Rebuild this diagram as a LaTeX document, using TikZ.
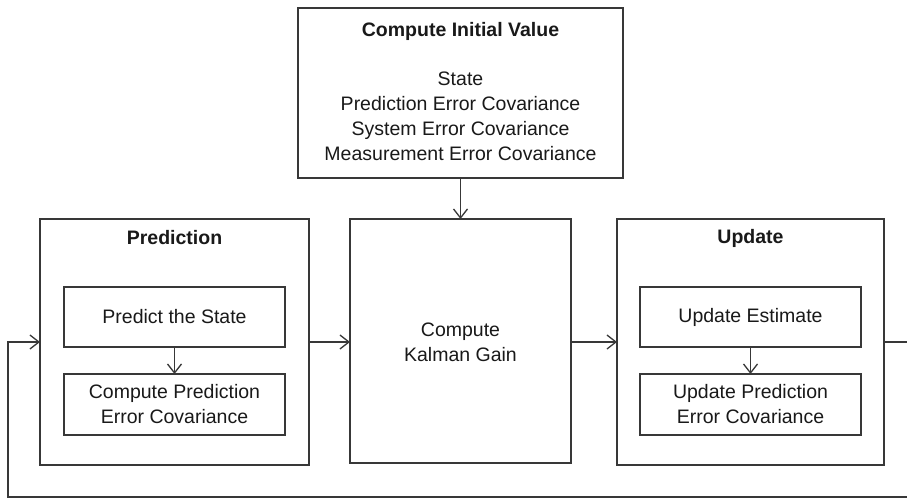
\documentclass[tikz,border=0pt]{standalone}
\usepackage{fontspec}
\setmainfont{Liberation Sans}
\usetikzlibrary{arrows.meta}
\begin{document}
\begin{tikzpicture}[x=1pt,y=-1pt,
  ln/.style={draw=black!78, line width=1.3pt},
  box/.style={ln, fill=white, inner sep=0pt, outer sep=0pt},
  txt/.style={font=\fontsize{19.5}{25}\selectfont, align=center, inner sep=0pt, text=black!90},
  ttl/.style={txt, font=\fontsize{19.5}{25}\selectfont\bfseries},
  arr/.style={ln, -{Straight Barb[length=9pt,width=14pt,line width=1.3pt]}}]
\useasboundingbox (0,0) rectangle (907,500);
\fill[white] (0,0) rectangle (907,500);
% boxes
\node[box, minimum width=325pt, minimum height=170pt] (init) at (460.5,93) {};
\node[box, minimum width=269pt, minimum height=246pt] (pred) at (174.5,342) {};
\node[box, minimum width=221pt, minimum height=244pt] (kal) at (460.5,341) {};
\node[box, minimum width=267pt, minimum height=246pt] (upd) at (750.5,342) {};
\node[box, minimum width=221pt, minimum height=60pt] (ps) at (174.5,317) {};
\node[box, minimum width=221pt, minimum height=61pt] (pc) at (174.5,404.5) {};
\node[box, minimum width=221pt, minimum height=60pt] (ue) at (750.5,317) {};
\node[box, minimum width=221pt, minimum height=61pt] (uc) at (750.5,404.5) {};
% texts
\node[ttl] (initt) at (460.5,31) {Compute Initial Value};
\node[txt] (initb) at (460.5,116) {State\\Prediction Error Covariance\\System Error Covariance\\Measurement Error Covariance};
\node[ttl] (predt) at (174.5,238) {Prediction};
\node[ttl] (updt) at (750.5,238) {Update};
\node[txt] (pst) at (174.5,317) {Predict the State};
\node[txt] (pct) at (174.5,404.5) {Compute Prediction\\Error Covariance};
\node[txt] (kalt) at (460.5,342) {Compute\\Kalman Gain};
\node[txt] (uet) at (750.5,317) {Update Estimate};
\node[txt] (uct) at (750.5,404.5) {Update Prediction\\Error Covariance};
% connectors
\draw[arr] (init.south) -- (kal.north);
\draw[arr] (ps.south) -- (pc.north);
\draw[arr] (ue.south) -- (uc.north);
\draw[arr] (pred.east) -- (pred.east -| kal.west);
\draw[arr] (kal.east |- upd.west) -- (upd.west);
\coordinate (r1) at (910,342);
\coordinate (r2) at (910,497);
\coordinate (l1) at (8,497);
\coordinate (l2) at (8,342);
\draw[arr] (upd.east) -- (r1) -- (r2) -- (l1) -- (l2) -- (pred.west);
\end{tikzpicture}
\end{document}
